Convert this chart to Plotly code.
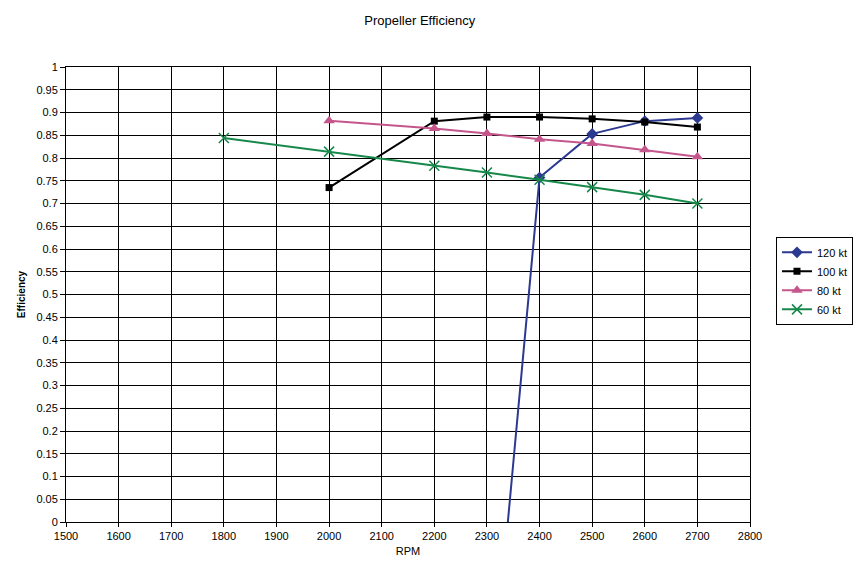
import plotly.graph_objects as go

rpm_120 = [2300, 2400, 2500, 2600, 2700]
eff_120 = [-0.50, 0.757, 0.853, 0.881, 0.888]

rpm_100 = [2000, 2200, 2300, 2400, 2500, 2600, 2700]
eff_100 = [0.735, 0.881, 0.890, 0.890, 0.886, 0.879, 0.868]

rpm_80 = [2000, 2200, 2300, 2400, 2500, 2600, 2700]
eff_80 = [0.882, 0.865, 0.854, 0.841, 0.832, 0.818, 0.803]

rpm_60 = [1800, 2000, 2200, 2300, 2400, 2500, 2600, 2700]
eff_60 = [0.844, 0.814, 0.783, 0.768, 0.752, 0.736, 0.719, 0.700]

x_ticks = list(range(1500, 2801, 100))
y_tick_vals = [round(i * 0.05, 2) for i in range(21)]
y_tick_text = ["0", "0.05", "0.1", "0.15", "0.2", "0.25", "0.3", "0.35", "0.4", "0.45",
               "0.5", "0.55", "0.6", "0.65", "0.7", "0.75", "0.8", "0.85", "0.9", "0.95", "1"]

FONT = "Liberation Sans, Arial, sans-serif"

fig = go.Figure()
fig.add_trace(go.Scatter(x=rpm_120, y=eff_120, name="120 kt", mode="lines+markers",
                         line=dict(color="#2B3990", width=2),
                         marker=dict(symbol="diamond", size=9, color="#2B3990"),
                         cliponaxis=True))
fig.add_trace(go.Scatter(x=rpm_100, y=eff_100, name="100 kt", mode="lines+markers",
                         line=dict(color="#000000", width=2),
                         marker=dict(symbol="square", size=7, color="#000000")))
fig.add_trace(go.Scatter(x=rpm_80, y=eff_80, name="80 kt", mode="lines+markers",
                         line=dict(color="#C4568C", width=2),
                         marker=dict(symbol="triangle-up", size=10, color="#C4568C")))
fig.add_trace(go.Scatter(x=rpm_60, y=eff_60, name="60 kt", mode="lines+markers",
                         line=dict(color="#16884A", width=2),
                         marker=dict(symbol="x-thin-open", size=10,
                                     line=dict(color="#16884A", width=1.5))))

fig.update_layout(
    width=862, height=574,
    margin=dict(l=66, r=112, t=67, b=52, autoexpand=False),
    paper_bgcolor="white", plot_bgcolor="white",
    font=dict(family=FONT, size=11, color="#000000"),
    title=dict(text="Propeller Efficiency", x=0.487, xref="container", y=0.965,
               yref="container", xanchor="center", yanchor="middle",
               font=dict(size=13, family=FONT)),
    showlegend=True,
    legend=dict(x=1.038, y=0.53, xanchor="left", yanchor="middle",
                bordercolor="#000000", borderwidth=1, bgcolor="white",
                font=dict(size=11, family=FONT), tracegroupgap=0,
                itemwidth=30),
    xaxis=dict(range=[1500, 2800], tickvals=x_ticks, showgrid=True,
               gridcolor="#000000", gridwidth=1, showline=True, linecolor="#000000",
               linewidth=1, mirror=True, ticks="outside", ticklen=4, tickcolor="#000000",
               zeroline=False,
               title=dict(text="RPM", font=dict(size=11, family=FONT), standoff=6)),
    yaxis=dict(range=[0, 1], tickvals=y_tick_vals, ticktext=y_tick_text, showgrid=True,
               gridcolor="#000000", gridwidth=1, showline=True, linecolor="#000000",
               linewidth=1, mirror=True, ticks="outside", ticklen=5, tickcolor="#000000",
               zeroline=False,
               title=dict(text="<b>Efficiency</b>", font=dict(size=10, family=FONT), standoff=8)),
)

fig.write_html("out.html")
